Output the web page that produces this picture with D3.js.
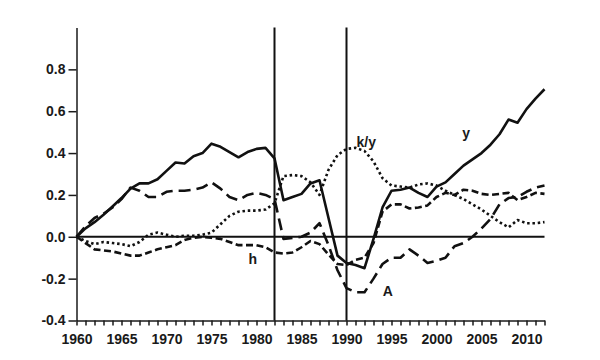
<!DOCTYPE html>
<html>
<head>
<meta charset="utf-8">
<script src="https://cdn.jsdelivr.net/npm/d3@7"></script>
<style>
  html, body { margin: 0; padding: 0; background: #fff; }
  svg { display: block; }
  text { font-family: "Liberation Sans", Arial, sans-serif; font-weight: bold; fill: #1a1a1a; }
</style>
</head>
<body>
<svg id="chart" width="600" height="360"></svg>
<script>
const years = d3.range(1960, 2013);

const ySeries = [0, 0.04, 0.07, 0.105, 0.145, 0.185, 0.23, 0.255, 0.255, 0.275,
  0.315, 0.355, 0.35, 0.385, 0.40, 0.445, 0.43, 0.405, 0.38, 0.405,
  0.42, 0.425, 0.375, 0.175, 0.19, 0.205, 0.255, 0.27, 0.09, -0.09,
  -0.125, -0.135, -0.15, -0.01, 0.14, 0.22, 0.225, 0.235, 0.21, 0.19,
  0.24, 0.26, 0.30, 0.34, 0.37, 0.40, 0.44, 0.49, 0.56, 0.545,
  0.61, 0.66, 0.705];

const kySeries = [0, -0.02, -0.035, -0.025, -0.03, -0.035, -0.045, -0.025, 0.01, 0.02,
  0.01, 0.0, 0.005, 0.005, 0.01, 0.02, 0.06, 0.10, 0.12, 0.125,
  0.125, 0.13, 0.16, 0.29, 0.295, 0.29, 0.26, 0.20, 0.32, 0.39,
  0.42, 0.425, 0.41, 0.36, 0.28, 0.245, 0.24, 0.235, 0.25, 0.255,
  0.245, 0.22, 0.20, 0.18, 0.155, 0.13, 0.10, 0.07, 0.045, 0.08,
  0.065, 0.065, 0.07];

const aSeries = [0, 0.05, 0.09, 0.11, 0.14, 0.18, 0.235, 0.22, 0.19, 0.19,
  0.215, 0.22, 0.22, 0.225, 0.235, 0.26, 0.23, 0.19, 0.175, 0.2,
  0.21, 0.2, 0.18, -0.01, -0.005, 0.0, 0.02, 0.065, -0.04, -0.16,
  -0.245, -0.265, -0.265, -0.2, -0.13, -0.1, -0.1, -0.06, -0.09, -0.125,
  -0.115, -0.1, -0.045, -0.03, 0.0, 0.04, 0.085, 0.155, 0.185, 0.19,
  0.215, 0.235, 0.245];

const hSeries = [0, -0.03, -0.06, -0.065, -0.07, -0.08, -0.09, -0.09, -0.075, -0.06,
  -0.05, -0.04, -0.015, -0.005, 0.0, -0.005, -0.01, -0.025, -0.04, -0.04,
  -0.04, -0.05, -0.075, -0.08, -0.075, -0.05, -0.02, -0.035, -0.085, -0.13,
  -0.135, -0.11, -0.1, -0.03, 0.12, 0.155, 0.155, 0.135, 0.14, 0.15,
  0.19, 0.21, 0.2, 0.225, 0.22, 0.205, 0.2, 0.205, 0.21, 0.175,
  0.19, 0.21, 0.205];

const yTickValues = [-0.4, -0.2, 0.0, 0.2, 0.4, 0.6, 0.8];
const xLabelYears = [1960, 1965, 1970, 1975, 1980, 1985, 1990, 1995, 2000, 2005, 2010];
const breakYears = [1982, 1990];

const labels = [
  { text: "y", year: 2003.3, value: 0.47 },
  { text: "k/y", year: 1992.2, value: 0.43 },
  { text: "h", year: 1979.6, value: -0.13 },
  { text: "A", year: 1994.6, value: -0.285 }
];

const svg = d3.select("#chart");
const x = d3.scaleLinear().domain([1960, 2012]).range([76.5, 544.5]);
const y = d3.scaleLinear().domain([-0.4, 1.0]).range([320.5, 27.5]);

// y axis
const yAxis = d3.axisLeft(y).tickValues(yTickValues).tickFormat(d => d.toFixed(1))
  .tickSize(8).tickSizeOuter(0).tickPadding(3);
const gy = svg.append("g").attr("transform", `translate(${x(1960)},0)`).call(yAxis);
gy.selectAll("text").style("font-size", "14px");
gy.selectAll("line, path").attr("stroke", "#1a1a1a").attr("stroke-width", 1.5);

// x axis
const xAxis = d3.axisBottom(x).tickValues(years)
  .tickFormat(d => xLabelYears.includes(d) ? String(d) : "")
  .tickSize(5).tickSizeOuter(0).tickPadding(9);
const gx = svg.append("g").attr("transform", `translate(0,${y(-0.4)})`).call(xAxis);
gx.selectAll("text").style("font-size", "14px");
gx.selectAll("line, path").attr("stroke", "#1a1a1a").attr("stroke-width", 1.5);

// zero line
svg.append("line")
  .attr("x1", x(1960)).attr("x2", x(2012))
  .attr("y1", y(0)).attr("y2", y(0))
  .attr("stroke", "#111").attr("stroke-width", 2);

// break lines
svg.selectAll(".brk").data(breakYears).enter().append("line")
  .attr("x1", d => x(d)).attr("x2", d => x(d))
  .attr("y1", y(1.0)).attr("y2", y(-0.4))
  .attr("stroke", "#111").attr("stroke-width", 2);

const line = d3.line().x((d, i) => x(years[i])).y(d => y(d));

const series = [
  { data: ySeries, dash: null },
  { data: kySeries, dash: "2.5,2.8" },
  { data: aSeries, dash: "12,6" },
  { data: hSeries, dash: "7,3.5" }
];

svg.selectAll(".series").data(series).enter().append("path")
  .attr("d", d => line(d.data))
  .attr("fill", "none")
  .attr("stroke", "#111")
  .attr("stroke-width", 2.6)
  .attr("stroke-linejoin", "round")
  .attr("stroke-dasharray", d => d.dash);

svg.selectAll(".lbl").data(labels).enter().append("text")
  .attr("x", d => x(d.year)).attr("y", d => y(d.value))
  .attr("text-anchor", "middle")
  .style("font-size", "14px")
  .text(d => d.text);
</script>
</body>
</html>
